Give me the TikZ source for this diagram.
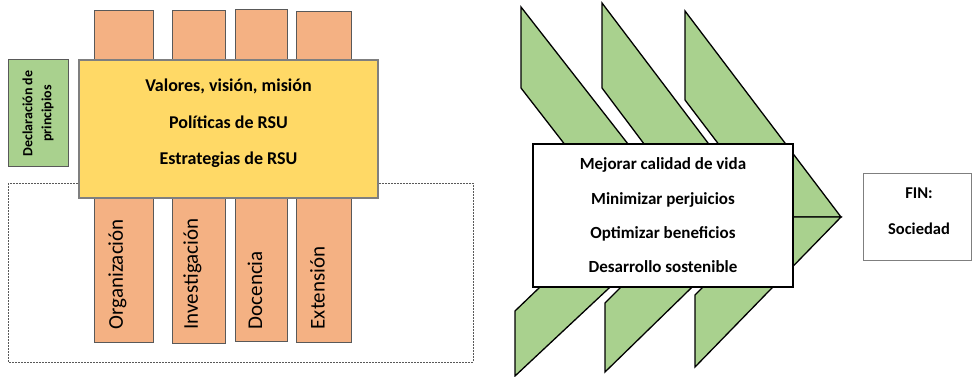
\documentclass[tikz,border=0pt]{standalone}
\usepackage{fontspec}
\setmainfont{Carlito}
\definecolor{rsuorange}{HTML}{F4B183}
\definecolor{rsuyellow}{HTML}{FFD966}
\definecolor{rsugreen}{HTML}{A9D18E}
\definecolor{rsuline}{HTML}{595959}
\definecolor{rsugray}{HTML}{7F7F7F}

\begin{document}
\begin{tikzpicture}[x=1pt, y=-1pt]
    \tikzstyle{frame}      = [draw=rsuline, line width=0.8pt, dash pattern=on 2pt off 1pt]
    \tikzstyle{column}     = [rectangle, draw=rsuline, line width=1pt, fill=rsuorange, inner sep=0pt]
    \tikzstyle{columntext} = [rotate=90, anchor=west, inner sep=0pt, font=\fontsize{21}{25}\selectfont]
    \tikzstyle{core}       = [rectangle, draw=rsugray, line width=1.2pt, fill=rsuyellow, inner sep=0pt, minimum width=299pt, minimum height=138pt]
    \tikzstyle{coretext}   = [align=center, inner sep=0pt, font=\fontsize{18}{36.5}\selectfont\bfseries]
    \tikzstyle{principle}  = [rectangle, draw=rsuline, line width=1pt, fill=rsugreen, rotate=90, align=center, inner sep=0pt, minimum width=107pt, minimum height=60pt, font=\fontsize{14}{19}\selectfont\bfseries]
    \tikzstyle{chevron}    = [draw=black, line width=1.3pt, fill=rsugreen, line join=miter]
    \tikzstyle{goals}      = [rectangle, draw=black, line width=1.3pt, fill=white, align=center, inner sep=0pt, minimum width=260pt, minimum height=143pt, font=\fontsize{17}{34.3}\selectfont\bfseries]
    \tikzstyle{finbox}     = [rectangle, draw=rsugray, line width=1pt, fill=white, inner sep=0pt, minimum width=108pt, minimum height=86pt]
    \tikzstyle{fintext}    = [align=center, inner sep=0pt, font=\fontsize{16.5}{36}\selectfont\bfseries]

    \useasboundingbox (0,0) rectangle (972,377);

    % Dashed frame
    \draw [frame] (8,183) rectangle (473,362);

    % Functions
    \node [column, minimum width=59pt, minimum height=331pt] (org) at (123.5,176.5) {};
    \node [column, minimum width=53pt, minimum height=332pt] (inv) at (198.5,177)   {};
    \node [column, minimum width=52pt, minimum height=331pt] (doc) at (261,175.5)   {};
    \node [column, minimum width=55pt, minimum height=330pt] (ext) at (323.5,177)   {};
    \node [columntext] at ([xshift=-6pt, yshift=13pt]org.south) {Organización};
    \node [columntext] at ([xshift=-6pt, yshift=14pt]inv.south) {Investigación};
    \node [columntext] at ([xshift=-6pt, yshift=12pt]doc.south) {Docencia};
    \node [columntext] at ([xshift=-6pt, yshift=13pt]ext.south) {Extensión};

    % Core
    \node [core] (core) at (228.5,129) {};
    \node [coretext] at ([yshift=5.5pt]core.center) {Valores, visión, misión\\Políticas de RSU\\Estrategias de RSU};
    \node [principle] (decl) at (38,113.5) {Declaración de\\principios};

    % Chevrons
    \draw [chevron] (521,7)   -- (685,217) -- (621,217) -- (521,88)  -- cycle;
    \draw [chevron] (685,217) -- (515,376) -- (515,311) -- (613,217) -- cycle;
    \draw [chevron] (602,3)   -- (764,217) -- (699,217) -- (602,88)  -- cycle;
    \draw [chevron] (764,217) -- (605,372) -- (605,303) -- (691,217) -- cycle;
    \draw [chevron] (685,11)  -- (841,217) -- (774,217) -- (685,100) -- cycle;
    \draw [chevron] (841,217) -- (695,367) -- (695,295) -- (773,217) -- cycle;

    % Goals
    \node [goals] (goals) at (663,215.5) {Mejorar calidad de vida\\Minimizar perjuicios\\Optimizar beneficios\\Desarrollo sostenible};

    % End
    \node [finbox] (fin) at (917,217) {};
    \node [fintext] at ([xshift=2pt, yshift=6pt]fin.center) {FIN:\\Sociedad};

\end{tikzpicture}
\end{document}
